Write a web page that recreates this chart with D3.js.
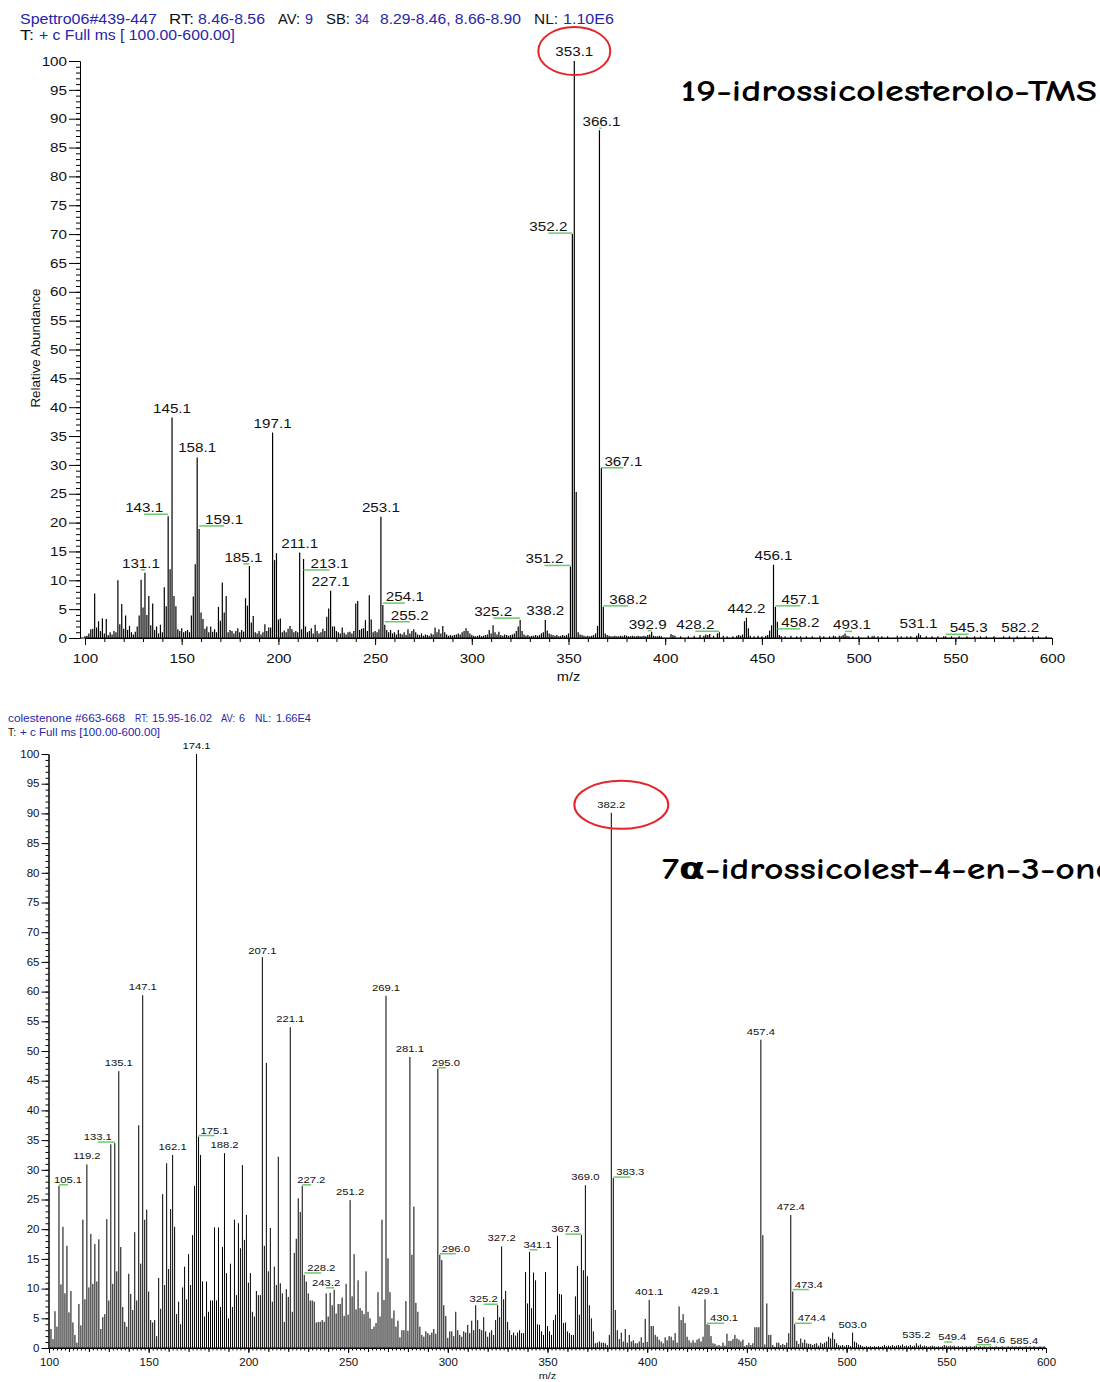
<!DOCTYPE html>
<html>
<head>
<meta charset="utf-8">
<script src="https://cdn.jsdelivr.net/npm/d3@7"></script>
<style>
  body { margin: 0; background: #fff; }
</style>
</head>
<body>
<script>
// ---- data (m/z, relative abundance) ----
const topPeaks = [
  [100,.3],[101,.4],[102,.8],[103,1.5],[104,1.6],[105,7.7],[106,1.8],[107,2.9],[108,1.2],[109,3.4],
  [110,.8],[111,3.3],[112,.5],[113,1.0],[114,.6],[115,1.2],[116,1.0],[117,10.0],[118,2.4],[119,5.9],
  [120,1.6],[121,3.9],[122,1.4],[123,2.1],[124,1.0],[125,.6],[126,1.1],[127,2.0],[128,3.9],[129,10.1],
  [130,5.3],[131,11.3],[132,4.0],[133,7.3],[134,2.2],[135,6.0],[136,1.4],[137,2.0],[138,.8],[139,2.3],
  [140,1.0],[141,8.8],[142,5.5],[143,21.1],[144,11.9],[145,38.2],[146,7.3],[147,5.5],[148,1.5],[149,1.2],
  [150,1.7],[151,1.0],[152,1.2],[153,1.4],[154,1.0],[155,3.9],[156,7.2],[157,12.8],[158,31.3],[159,18.9],
  [160,4.4],[161,3.3],[162,1.6],[163,2.0],[164,1.0],[165,2.0],[166,1.1],[167,1.5],[168,1.0],[169,5.4],
  [170,3.0],[171,9.6],[172,4.4],[173,7.3],[174,1.0],[175,1.4],[176,1.2],[177,.8],[178,1.2],[179,1.7],
  [180,1.0],[181,1.4],[182,1.1],[183,6.9],[184,5.6],[185,12.5],[186,2.7],[187,3.8],[188,1.0],[189,.8],
  [190,1.2],[191,.6],[192,1.0],[193,2.4],[194,1.2],[195,1.8],[196,1.8],[197,35.6],[198,13.5],[199,14.7],
  [200,3.2],[201,3.4],[202,1.0],[203,1.3],[204,1.0],[205,1.6],[206,2.1],[207,1.5],[208,1.0],[209,1.2],
  [210,1.0],[211,14.8],[212,1.5],[213,13.7],[214,2.0],[215,1.0],[216,1.2],[217,1.7],[218,.8],[219,2.3],
  [220,1.2],[221,.8],[222,1.0],[223,1.6],[224,1.2],[225,3.7],[226,5.1],[227,8.2],[228,2.0],[229,2.0],
  [230,1.2],[231,1.0],[232,.8],[233,1.8],[234,.9],[235,.6],[236,1.0],[237,1.1],[238,.8],[239,1.2],
  [240,6.0],[241,6.4],[242,1.4],[243,1.6],[244,1.7],[245,3.1],[246,1.2],[247,7.4],[248,3.2],[249,1.0],
  [250,1.2],[251,1.0],[252,1.5],[253,21.0],[254,5.7],[255,2.3],[256,1.4],[257,1.0],[258,1.4],[259,.8],
  [260,1.0],[261,.6],[262,1.4],[263,.8],[264,.6],[265,1.0],[266,.5],[267,1.5],[268,.8],[269,1.2],
  [270,1.5],[271,1.0],[272,.6],[273,.5],[274,.8],[275,.4],[276,.6],[277,.5],[278,.4],[279,.8],
  [280,.6],[281,1.8],[282,1.0],[283,1.5],[284,.8],[285,2.1],[286,1.0],[287,.6],[288,.4],[289,.5],
  [290,.4],[291,.5],[292,.6],[293,.8],[294,.6],[295,1.0],[296,1.2],[297,1.7],[298,1.2],[299,.8],
  [300,.5],[301,.4],[302,.3],[303,.4],[304,.5],[305,.3],[306,.4],[307,.5],[308,.6],[309,1.4],
  [310,.8],[311,2.2],[312,1.0],[313,.6],[314,1.1],[315,.5],[316,.4],[317,.6],[318,.5],[319,.4],
  [320,.5],[321,.6],[322,.8],[323,1.2],[324,2.0],[325,3.1],[326,1.2],[327,.6],[328,.4],[329,.5],
  [330,.3],[331,.4],[332,.4],[333,.5],[334,.4],[335,.5],[336,.8],[337,1.0],[338,3.1],[339,1.3],
  [340,.8],[341,.6],[342,.5],[343,.4],[344,.5],[345,.3],[346,.4],[347,.5],[348,.4],[349,.5],
  [350,.8],[351,12.4],[352,70.0],[353,100],[354,25.3],[355,1.0],[356,.6],[357,.5],[358,.4],[359,.3],
  [360,.4],[361,.3],[362,.4],[363,.5],[364,.8],[365,2.1],[366,88.0],[367,29.5],[368,5.4],[369,.8],
  [370,.5],[371,.4],[372,.3],[373,.3],[374,.4],[375,.3],[376,.3],[377,.4],[378,.3],[379,.5],
  [380,.4],[381,.3],[382,.3],[383,.4],[384,.3],[385,.3],[386,.4],[387,.3],[388,.3],[389,.4],
  [390,.3],[391,.5],[392,.6],[393,1.1],[394,.4],[395,.3],[396,.3],[397,.4],[398,.3],
  [403,.7],[404,.5],[405,.4],[408,.3],[412,.3],[415,.4],[418,.5],[420,.4],[421,.6],[422,.5],
  [423,.7],[425,.4],[427,.8],[428,1.0],[430,.4],[432,.3],[435,.3],[437,.4],[438,.5],[439,.4],
  [440,.6],[441,2.9],[442,3.5],[443,1.7],[444,.4],[446,.3],[448,.4],[450,.3],[452,.4],[453,.5],
  [454,1.3],[455,2.2],[456,12.7],[457,5.4],[458,2.8],[459,.5],[460,.3],[462,.3],[465,.4],[468,.3],
  [470,.3],[473,.3],[476,.3],[480,.4],[482,.3],[485,.3],[487,.4],[488,.3],[490,.4],[491,.3],
  [492,.5],[493,.8],[494,.4],[495,.3],[497,.3],[500,.3],[505,.4],[507,.3],[508,.4],[510,.3],
  [512,.3],[515,.3],[520,.4],[522,.3],[525,.3],[527,.3],[530,.4],[531,.8],[532,.5],[535,.3],
  [538,.3],[541,.3],[544,.3],[545,.3],[548,.3],[552,.3],[556,.3],[560,.3],[563,.3],[566,.3],
  [570,.3],[575,.3],[578,.3],[582,.3],[586,.3],[590,.3],[593,.3],[597,.3]
]

const topLabels = [
  '353.1','366.1','352.2','367.1','145.1','158.1','197.1','143.1','159.1','131.1',
  '185.1','211.1','213.1','227.1','253.1','254.1','255.2','325.2','338.2','351.2',
  '368.2','392.9','428.2','442.2','456.1','457.1','458.2','493.1','531.1','545.3','582.2'
]

const botPeaks = [
  [101,3.2],[102,1.5],[103,6.2],[104,3.6],[105,27.3],[106,10.7],[107,20.4],[108,9.2],[109,17.2],
  [110,6.0],[111,9.6],[112,4.3],[113,2.2],[114,.9],[115,7.4],[116,3.8],[117,21.6],[118,8.2],[119,30.9],
  [120,10.2],[121,19.2],[122,10.8],[123,17.5],[124,11.2],[125,18.3],[126,3.2],[127,5.2],[128,5.7],[129,21.7],
  [130,8.0],[131,34.3],[132,10.8],[133,34.5],[134,12.9],[135,46.6],[136,17.0],[137,6.9],[138,4.4],[139,3.6],
  [140,12.5],[141,9.1],[142,6.4],[143,19.5],[144,8.0],[145,37.5],[146,14.2],[147,59.4],[148,21.6],[149,23.3],
  [150,9.5],[151,4.7],[152,4.3],[153,4.7],[154,2.0],[155,11.8],[156,6.6],[157,25.9],[158,10.6],[159,31.1],
  [160,13.3],[161,23.4],[162,32.5],[163,20.4],[164,5.7],[165,7.8],[166,4.0],[167,10.2],[168,13.7],[169,8.2],
  [170,15.8],[171,10.6],[172,19.0],[173,27.3],[174,100],[175,35.6],[176,32.5],[177,11.2],[178,5.3],[179,11.2],
  [180,6.1],[181,8.0],[182,8.0],[183,20.3],[184,8.0],[185,20.3],[186,6.9],[187,17.0],[188,32.8],[189,12.6],
  [190,5.0],[191,14.2],[192,6.9],[193,21.6],[194,8.9],[195,21.0],[196,16.8],[197,30.8],[198,18.2],[199,22.4],
  [200,11.0],[201,12.6],[202,6.1],[203,5.3],[204,9.6],[205,8.9],[206,8.9],[207,65.8],[208,17.2],[209,48.0],
  [210,12.9],[211,20.2],[212,7.8],[213,13.7],[214,10.6],[215,32.2],[216,10.9],[217,9.2],[218,4.4],[219,9.9],
  [220,8.6],[221,54.0],[222,6.1],[223,16.0],[224,18.4],[225,25.2],[226,22.9],[227,27.3],[228,12.3],[229,11.2],
  [230,9.2],[231,8.0],[232,8.0],[233,7.8],[234,4.3],[235,4.4],[236,4.4],[237,4.7],[238,4.4],[239,9.2],
  [240,5.3],[241,9.3],[242,7.2],[243,9.8],[244,5.8],[245,7.4],[246,7.4],[247,8.5],[248,5.4],[249,10.8],
  [250,5.6],[251,24.9],[252,8.7],[253,15.8],[254,6.5],[255,11.4],[256,6.7],[257,6.3],[258,5.7],[259,12.9],
  [260,6.1],[261,5.0],[262,3.2],[263,3.6],[264,4.2],[265,9.4],[266,5.3],[267,21.6],[268,8.1],[269,59.3],
  [270,15.1],[271,9.4],[272,5.0],[273,6.3],[274,3.6],[275,4.6],[276,1.8],[277,3.0],[278,3.0],[279,7.9],
  [280,2.9],[281,49.0],[282,15.7],[283,23.8],[284,7.6],[285,6.1],[286,3.6],[287,2.2],[288,1.9],[289,2.8],
  [290,2.5],[291,2.2],[292,2.6],[293,3.2],[294,2.4],[295,47.0],[296,15.7],[297,14.8],[298,7.2],[299,5.4],
  [300,1.7],[301,2.8],[302,2.8],[303,2.0],[304,6.1],[305,3.0],[306,2.2],[307,1.9],[308,2.8],[309,2.6],
  [310,3.9],[311,2.5],[312,4.6],[313,3.0],[314,7.2],[315,4.7],[316,3.2],[317,3.0],[318,5.2],[319,2.8],
  [320,1.9],[321,2.6],[322,3.0],[323,2.2],[324,4.7],[325,7.2],[326,5.2],[327,17.1],[328,8.2],[329,9.6],
  [330,4.4],[331,3.0],[332,2.2],[333,2.6],[334,2.1],[335,2.6],[336,3.0],[337,2.5],[338,2.5],[339,12.8],
  [340,7.5],[341,16.2],[342,6.7],[343,12.7],[344,11.4],[345,4.0],[346,3.9],[347,2.8],[348,2.2],[349,12.8],
  [350,3.7],[351,2.8],[352,2.2],[353,4.7],[354,5.6],[355,18.9],[356,9.1],[357,9.0],[358,4.2],[359,4.3],
  [360,2.8],[361,2.5],[362,2.2],[363,2.2],[364,8.7],[365,13.8],[366,5.6],[367,19.0],[368,13.1],[369,27.4],
  [370,12.1],[371,7.2],[372,5.0],[373,2.8],[374,.8],[375,.9],[376,1.1],[377,.9],[378,.9],[379,.8],
  [380,.5],[381,2.2],[382,90.1],[383,28.6],[384,6.4],[385,3.0],[386,1.5],[387,2.6],[388,1.1],[389,3.2],
  [390,.9],[391,2.2],[392,1.1],[393,1.3],[394,.8],[395,.8],[396,1.1],[397,1.8],[398,.9],[399,4.9],
  [400,1.0],[401,8.1],[402,3.7],[403,3.7],[404,2.2],[405,1.9],[406,1.4],[407,1.1],[408,.8],[409,1.8],
  [410,1.3],[411,2.0],[412,1.9],[413,1.3],[414,2.5],[415,.9],[416,7.0],[417,4.7],[418,5.7],[419,4.2],
  [420,1.9],[421,1.3],[422,.9],[423,1.3],[424,.9],[425,1.4],[426,1.6],[427,1.1],[428,1.9],[429,8.2],
  [430,4.0],[431,3.9],[432,2.0],[433,.8],[434,.7],[435,.4],[436,.5],[437,.3],[438,.9],[439,.4],
  [440,2.4],[441,1.2],[442,1.2],[443,1.5],[444,2.2],[445,1.6],[446,1.4],[447,1.1],[448,1.4],[449,.3],
  [450,.5],[451,.9],[452,.5],[453,.8],[454,3.5],[455,3.5],[456,3.5],[457,51.9],[458,19.0],[459,.6],
  [460,7.5],[461,2.2],[462,2.2],[463,.5],[464,.2],[465,.9],[466,.9],[467,.5],[468,.7],[469,.5],
  [470,.9],[471,2.5],[472,22.4],[473,9.5],[474,4.0],[475,1.2],[476,.7],[477,1.6],[478,.9],[479,1.4],
  [480,.8],[481,.7],[482,.7],[483,.5],[484,.7],[485,.8],[486,.4],[487,.9],[488,.7],[489,.9],
  [490,1.1],[491,1.9],[492,1.6],[493,2.6],[494,1.5],[495,.8],[496,.5],[497,.4],[498,.5],[499,.3],
  [500,.5],[501,.5],[502,.3],[503,2.6],[504,1.1],[505,.9],[506,.6],[507,.5],[508,.3],[509,.2],
  [510,.3],[511,.2],[512,.3],[513,.2],[514,.3],[515,.2],[516,.3],[517,.2],[518,.3],[519,.5],
  [520,.3],[521,.4],[522,.3],[523,.5],[524,.3],[525,.4],[526,.5],[527,.4],[528,.6],[529,.3],
  [530,.4],[531,.3],[532,.5],[533,.3],[534,.4],[535,.8],[536,.4],[537,.6],[538,.3],[539,.4],
  [540,.3],[541,.2],[542,.3],[543,.4],[544,.3],[545,.2],[546,.3],[547,.2],[548,.3],[549,.5],
  [550,.4],[551,.3],[552,.4],[553,.3],[554,.4],[555,.2],[556,.3],[557,.2],[558,.3],[559,.2],
  [560,.3],[561,.2],[562,.3],[563,.2],[564,.3],[565,.4],[566,.2],[567,.3],[568,.2],[569,.3],
  [570,.2],[571,.2],[572,.3],[573,.2],[574,.2],[575,.3],[576,.2],[577,.2],[578,.3],[579,.2],
  [580,.2],[581,.3],[582,.2],[583,.3],[584,.2],[585,.3],[586,.2],[587,.3],[588,.2],[589,.2],
  [590,.3],[591,.2],[592,.3],[593,.2],[594,.3],[595,.2],[596,.2],[597,.3],[598,.2],[599,.3]
]

const botLabels = [
  '174.1','382.2','207.1','147.1','269.1','221.1','457.4','281.1','295.0','135.1',
  '175.1','133.1','162.1','188.2','119.2','383.3','369.0','105.1','227.2','251.2',
  '472.4','367.3','327.2','341.1','296.0','228.2','243.2','473.4','401.1','429.1',
  '325.2','474.4','430.1','503.0','535.2','549.4','564.6','585.4'
]

const yTickValues = [0,5,10,15,20,25,30,35,40,45,50,55,60,65,70,75,80,85,90,95,100]
const xTickValues = [100,150,200,250,300,350,400,450,500,550,600]

const headerTop = [
  ['Spettro06#439-447', 'v'], ['RT:', 'k'], ['8.46-8.56', 'v'], ['AV:', 'k'], ['9', 'v'],
  ['SB:', 'k'], ['34', 'v'], ['8.29-8.46, 8.66-8.90', 'v'], ['NL:', 'k'], ['1.10E6', 'v']
]
const header2Top = [['T:', 'k'], ['+ c Full ms [ 100.00-600.00]', 'v']]
const headerBot = [
  ['colestenone #663-668', 'v'], ['RT:', 'v'], ['15.95-16.02', 'v'], ['AV:', 'v'], ['6', 'v'],
  ['NL:', 'v'], ['1.66E4', 'v']
]
const header2Bot = [['T:', 'k'], ['+ c Full ms [100.00-600.00]', 'v']]

const titleTop = '19-idrossicolesterolo-TMS'
const titleBot = '7α-idrossicolest-4-en-3-one'

// ---- layout ----
const FONT = "'Liberation Sans', Arial, sans-serif"
const BLUE = '#2626a8'
const GREEN = '#6cc96c'

const svg = d3.select('body').append('svg')
  .attr('width', 1100)
  .attr('height', 1382)
  .style('display', 'block')

function stretchText(sel, size, sx) {
  sel.attr('font-size', size)
    .attr('font-family', FONT)
    .attr('fill', '#111')
    .each(function() {
      let t = d3.select(this)
      let tx = +t.attr('x') || 0
      t.attr('x', 0).attr('transform', `translate(${tx},0) scale(${sx},1)`)
    })
}

function putText(g, s, x, y, o) {
  return g.append('text')
    .attr('transform', `translate(${x},${y}) scale(${o.sx || 1},1)`)
    .attr('text-anchor', o.anchor || 'middle')
    .attr('font-family', o.family || FONT)
    .attr('font-size', o.size)
    .attr('font-weight', o.weight || 'normal')
    .attr('fill', o.fill || '#111')
    .text(s)
}

function header(g, segs, pos, y, size) {
  segs.forEach((s, i) => {
    g.append('text')
      .attr('x', pos[i][0])
      .attr('y', y)
      .attr('font-family', FONT)
      .attr('font-size', size)
      .attr('fill', s[1] === 'v' ? BLUE : '#111')
      .attr('textLength', pos[i][1])
      .attr('lengthAdjust', 'spacingAndGlyphs')
      .text(s[0])
  })
}

function drawPanel(p) {
  let g = svg.append('g')
  let x = d3.scaleLinear().domain([100, 600]).range([p.x0, p.x1])
  let y = d3.scaleLinear().domain([0, 100]).range([p.y0, p.y1])

  // y axis: minor ticks every 1, major every 5
  g.append('g')
    .attr('transform', `translate(${p.axisX},0)`)
    .call(d3.axisLeft(y).tickValues(d3.range(0, 101, 1)).tickSize(p.yMinor).tickSizeOuter(0).tickFormat(''))
  let ya = g.append('g')
    .attr('transform', `translate(${p.axisX},0)`)
    .call(d3.axisLeft(y).tickValues(yTickValues).tickSize(p.yMajor).tickPadding(2).tickSizeOuter(0))
  stretchText(ya.selectAll('text'), p.font, p.sx)

  // x axis
  p.xMinor.forEach(m => {
    g.append('g')
      .attr('transform', `translate(0,${p.y0})`)
      .call(d3.axisBottom(x).tickValues(d3.range(100, 601, m[0])).tickSize(m[1]).tickSizeOuter(0).tickFormat(''))
  })
  let xa = g.append('g')
    .attr('transform', `translate(0,${p.y0})`)
    .call(d3.axisBottom(x).tickValues(xTickValues).tickSize(p.xMajor).tickPadding(p.xPad).tickSizeOuter(0))
  stretchText(xa.selectAll('text'), p.font, p.sx)
  g.append('line')
    .attr('x1', p.axisX).attr('x2', x(600))
    .attr('y1', p.y0).attr('y2', p.y0)
    .attr('stroke', '#000')

  // sticks
  g.append('g').selectAll('line')
    .data(p.peaks)
    .join('line')
      .attr('x1', d => x(d[0]))
      .attr('x2', d => x(d[0]))
      .attr('y1', y(0))
      .attr('y2', d => y(d[1]))
      .attr('stroke', '#000')
      .attr('stroke-width', p.barW)

  // peak labels
  let lg = g.append('g')
  p.labels.forEach(lbl => {
    let pk = p.peaks.find(d => d[0] === Math.round(+lbl))
    let n = p.nudge[lbl] || [0, 0, 0]
    let px = x(pk[0])
    let lx = px + n[0]
    let by = y(pk[1]) - p.lift + n[1]
    if (n[2]) {
      lg.append('line')
        .attr('x1', px).attr('x2', lx)
        .attr('y1', by + 2).attr('y2', by + 2)
        .attr('stroke', GREEN)
        .attr('stroke-width', 1.5)
    }
    putText(lg, lbl, lx, by, { size: p.lblFont, sx: p.sx })
    if (p.circle && p.circle.label === lbl) {
      lg.append('ellipse')
        .attr('cx', lx + p.circle.dx)
        .attr('cy', by + p.circle.dy)
        .attr('rx', p.circle.rx)
        .attr('ry', p.circle.ry)
        .attr('fill', 'none')
        .attr('stroke', '#e3262b')
        .attr('stroke-width', 2)
    }
  })

  putText(g, 'm/z', (p.x0 + p.x1) / 2, p.mzY, { size: p.font - 0.5, sx: p.sx })
  return g
}

// ---- top spectrum ----
drawPanel({
  peaks: topPeaks, labels: topLabels,
  x0: 85, x1: 1052, y0: 638, y1: 61, axisX: 80,
  yMajor: 11, yMinor: 4, xMajor: 7, xPad: 9, xMinor: [[10, 4]],
  font: 13, lblFont: 13, sx: 1.17, barW: 1.2, lift: 5, mzY: 681,
  circle: { label: '353.1', dx: 0, dy: -5, rx: 36, ry: 24 },
  nudge: {
    '352.2': [-24, 2, 1], '367.1': [22, 3, 1], '143.1': [-24, 1, 1], '159.1': [25, 0, 1],
    '185.1': [-6, 1, 1], '213.1': [26, 14, 1], '254.1': [22, 1, 1], '255.2': [25, 0, 1],
    '325.2': [-27, 1, 1], '351.2': [-26, 2, 1], '368.2': [25, 2, 1], '392.9': [-4, 2, 1],
    '428.2': [-24, 2, 1], '457.1': [25, 2, 1], '458.2': [23, 10, 1], '493.1': [7, 1, 1],
    '545.3': [23, 1, 1], '582.2': [3, 1, 0], '131.1': [-4, 0, 1], '366.1': [2, 1, 1]
  }
})

// ---- bottom spectrum ----
drawPanel({
  peaks: botPeaks, labels: botLabels,
  x0: 49, x1: 1046, y0: 1348, y1: 754, axisX: 48.5,
  yMajor: 7, yMinor: 3, xMajor: 5, xPad: 6, xMinor: [[2, 2.5], [10, 4]],
  font: 10, lblFont: 9.8, sx: 1.15, barW: 1, lift: 5, mzY: 1379,
  circle: { label: '382.2', dx: 10, dy: -3, rx: 47, ry: 24 },
  nudge: {
    '295.0': [8, 2, 1], '175.1': [16, 2, 1], '133.1': [-17, 2, 1], '383.3': [17, 2, 1],
    '105.1': [9, 2, 1], '227.2': [9, 2, 1], '367.3': [-16, 2, 1], '341.1': [8, 1, 1],
    '296.0': [16, 2, 1], '228.2': [17, 1, 1], '243.2': [-8, 1, 1], '473.4': [16, 1, 1],
    '325.2': [-14, 2, 1], '474.4': [17, 2, 1], '430.1': [17, 2, 1], '549.4': [8, 0, 1],
    '564.6': [15, 2, 1], '585.4': [8, 3, 0], '207.1': [0, 2, 0]
  }
})

// ---- headers, titles, y label ----
let hg = svg.append('g')
header(hg, headerTop, [[20,137],[169,25],[198,67],[278,22],[305,8],[326,24],[355,14],[380,141],[534,24],[563,51]], 24, 14)
header(hg, header2Top, [[20,14],[39,196]], 40, 14)
header(hg, headerBot, [[8,117],[135,13],[152,60],[221,14],[239,6],[255,16],[276,35]], 722, 10.2)
header(hg, header2Bot, [[8,8],[20,140]], 736, 10.2)

hg.append('text')
  .attr('x', 681).attr('y', 101)
  .attr('font-family', "'Comic Sans MS', 'Comic Neue', 'DejaVu Sans', sans-serif")
  .attr('font-weight', 'bold')
  .attr('font-size', 30)
  .attr('fill', '#000')
  .attr('textLength', 416)
  .attr('lengthAdjust', 'spacingAndGlyphs')
  .text(titleTop)

hg.append('text')
  .attr('x', 662).attr('y', 879)
  .attr('font-family', "'Comic Sans MS', 'Comic Neue', 'DejaVu Sans', sans-serif")
  .attr('font-weight', 'bold')
  .attr('font-size', 30)
  .attr('fill', '#000')
  .attr('textLength', 452)
  .attr('lengthAdjust', 'spacingAndGlyphs')
  .text(titleBot)

hg.append('text')
  .attr('transform', 'translate(40,348) rotate(-90)')
  .attr('text-anchor', 'middle')
  .attr('font-family', FONT)
  .attr('font-size', 13.4)
  .attr('fill', '#111')
  .text('Relative Abundance')
</script>
</body>
</html>
